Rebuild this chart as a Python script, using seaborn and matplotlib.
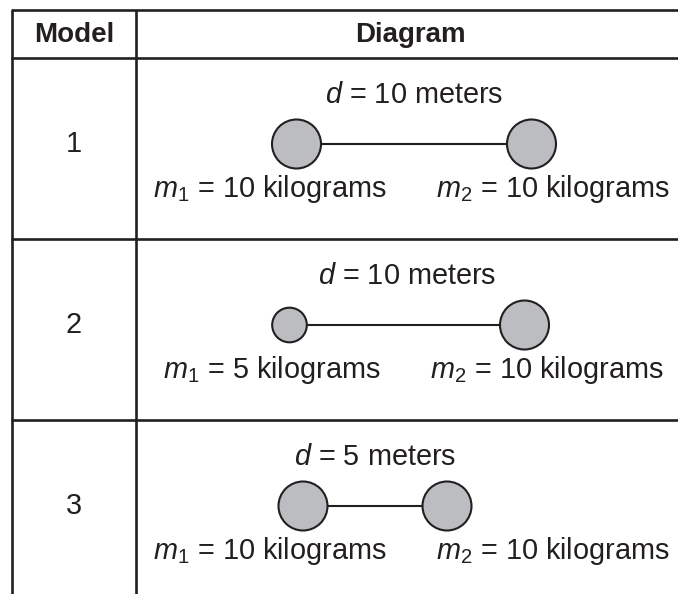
import numpy as np
import pandas as pd
import matplotlib
matplotlib.use("Agg")
import matplotlib.pyplot as plt
import seaborn as sns

# ── data ────────────────────────────────────────────────────────────────────
models = [1, 2, 3]
mass_1 = [10, 5, 10]          # kilograms
mass_2 = [10, 10, 10]         # kilograms
distance = [10, 10, 5]        # meters
header = ["Model", "Diagram"]

# ── layout (pixels, y grows downward) ───────────────────────────────────────
W, H = 678, 594
LEFT, DIV, TOP, HEAD = 12, 136, 10, 58
row_tops = [58, 239, 420]
diagram_mid = [414, 407, 375]
label_mid = [411.5, 405, 411.5]
INK = "#231f20"
FILL = "#bcbdc0"
R10 = 24.5                    # circle radius (px) for a 10 kg mass


def spacing(d):
    # centre-to-centre distance of the two masses in px
    return 53 + 18.2 * d


sns.set_theme(style="white")
plt.rcParams["font.family"] = ["Liberation Sans", "DejaVu Sans"]
plt.rcParams["mathtext.fontset"] = "custom"
plt.rcParams["mathtext.rm"] = "Liberation Sans"
plt.rcParams["mathtext.it"] = "Liberation Sans:italic"

fig = plt.figure(figsize=(W / 100, H / 100), dpi=100)
ax = fig.add_axes([0, 0, 1, 1])

# circles dataframe
recs = []
for i, m in enumerate(models):
    cy = row_tops[i] + 86
    half = spacing(distance[i]) / 2
    recs.append({"model": m, "x": diagram_mid[i] - half, "y": cy, "mass": mass_1[i]})
    recs.append({"model": m, "x": diagram_mid[i] + half, "y": cy, "mass": mass_2[i]})
circles = pd.DataFrame(recs)

# rods between the masses
for m, g in circles.groupby("model"):
    ax.plot(g["x"], g["y"], color=INK, lw=1.5, zorder=2)

px2pt = 72 / 100
sizes = {m: (2 * R10 * np.sqrt(m / 10) * px2pt) ** 2 for m in sorted(circles["mass"].unique())}
sns.scatterplot(data=circles, x="x", y="y", size="mass", sizes=sizes,
                color=FILL, edgecolor=INK, linewidth=1.5, legend=False,
                zorder=3, ax=ax)
ax.set_xlim(0, W)
ax.set_ylim(H, 0)
ax.axis("off")

# table grid
lw_grid = 1.9
ax.plot([LEFT, LEFT], [TOP, H + 5], color=INK, lw=lw_grid, solid_capstyle="butt")
ax.plot([DIV, DIV], [TOP, H + 5], color=INK, lw=lw_grid, solid_capstyle="butt")
for y in [TOP] + row_tops:
    ax.plot([LEFT - 1, W + 5], [y, y], color=INK, lw=lw_grid, solid_capstyle="butt")

ax.text((LEFT + DIV) / 2, (TOP + HEAD) / 2 + 1, header[0], ha="center", va="center",
        fontsize=20, fontweight="bold", color=INK)
ax.text(410, (TOP + HEAD) / 2 + 1, header[1], ha="center", va="center",
        fontsize=20, fontweight="bold", color=INK)

fs = 20.8
for i, m in enumerate(models):
    top = row_tops[i]
    ax.text((LEFT + DIV) / 2, top + 86, str(m), ha="center", va="center",
            fontsize=fs, color=INK)
    ax.text(diagram_mid[i], top + 45, rf"$d$ = {distance[i]} meters",
            ha="center", va="baseline", fontsize=fs, color=INK)
    ax.text(label_mid[i] - 24.5, top + 139, rf"$m_{{\mathrm{{1}}}}$ = {mass_1[i]} kilograms",
            ha="right", va="baseline", fontsize=fs, color=INK)
    ax.text(label_mid[i] + 24.5, top + 139, rf"$m_{{\mathrm{{2}}}}$ = {mass_2[i]} kilograms",
            ha="left", va="baseline", fontsize=fs, color=INK)

fig.savefig("out.png", dpi=100, facecolor="white")
plt.close(fig)
